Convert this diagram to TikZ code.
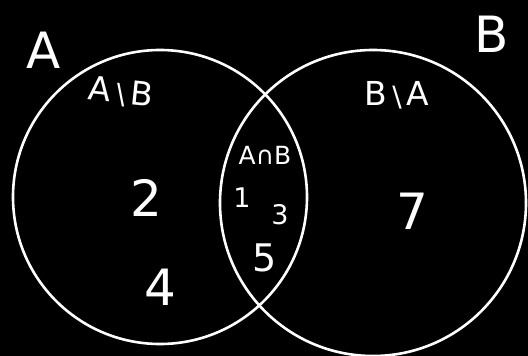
\documentclass[tikz,border=0pt]{standalone}
\usepackage{fontspec}
\setmainfont{DejaVu Sans}
\newcommand{\setminussym}{\hspace{5pt}\raisebox{-1pt}{\scalebox{0.85}{\textbackslash}}\hspace{5pt}}
\begin{document}
\begin{tikzpicture}[x=1pt,y=-1pt,
  ring/.style={draw=white, line width=2.6pt},
  lbl/.style={text=white, inner sep=0pt, anchor=center},
  big/.style={lbl, font=\fontsize{50}{50}\selectfont},
  mid/.style={lbl, font=\fontsize{33}{33}\selectfont},
  small/.style={lbl, font=\fontsize{27}{27}\selectfont}]
\fill[black] (0,0) rectangle (528,356);
\useasboundingbox (0,0) rectangle (528,356);
\draw[ring] (160,197) circle[radius=147pt];
\draw[ring] (373,203) circle[radius=153pt];
\node[big] (la) at (44,50) {A};
\node[big] (lb) at (492,34) {B};
\node[mid, rotate=-6] (amb) at (121,93) {A\setminussym B};
\node[mid] (bma) at (397,95) {B\setminussym A};
\node[lbl, font=\fontsize{25}{25}\selectfont] (anb) at (265,155) {A∩B};
\node[big] (n2) at (146,198) {2};
\node[big] (n4) at (160,287) {4};
\node[big] (n7) at (412,211) {7};
\node[small] (n1) at (242,198) {1};
\node[small] (n3) at (280,215) {3};
\node[lbl, font=\fontsize{38}{38}\selectfont] (n5) at (265,258) {5};
\end{tikzpicture}
\end{document}
